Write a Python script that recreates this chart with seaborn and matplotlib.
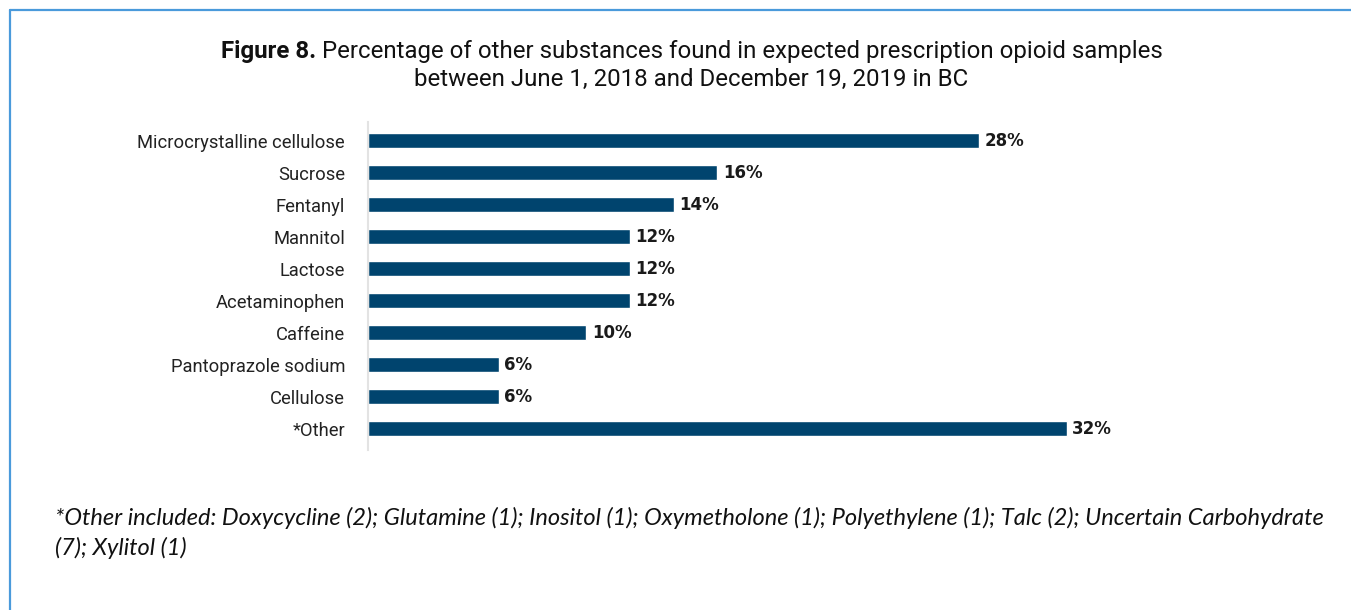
import matplotlib
matplotlib.use("Agg")
import matplotlib.pyplot as plt
from matplotlib.lines import Line2D
import seaborn as sns
import pandas as pd

substances = [
    "Microcrystalline cellulose", "Sucrose", "Fentanyl", "Mannitol", "Lactose",
    "Acetaminophen", "Caffeine", "Pantoprazole sodium", "Cellulose", "*Other",
]
percentages = [28, 16, 14, 12, 12, 12, 10, 6, 6, 32]
value_labels = [f"{p}%" for p in percentages]

title_bold = "Figure 8."
title_line1 = " Percentage of other substances found in expected prescription opioid samples"
title_line2 = "between June 1, 2018 and December 19, 2019 in BC"
footnote_line1 = ("*Other included: Doxycycline (2); Glutamine (1); Inositol (1); Oxymetholone (1); "
                  "Polyethylene (1); Talc (2); Uncertain Carbohydrate")
footnote_line2 = "(7); Xylitol (1)"

bar_color = "#00446E"
frame_color = "#4A9ADB"

sns.set_theme(style="white")
plt.rcParams["font.family"] = ["Roboto", "DejaVu Sans"]

df = pd.DataFrame({"substance": substances, "pct": percentages})

W, H = 1351, 610
fig = plt.figure(figsize=(W / 100, H / 100), dpi=100)
ax = fig.add_axes([0.2724, 0.2623, 0.6463, 0.5377])

sns.barplot(data=df, x="pct", y="substance", orient="h", color=bar_color,
            saturation=1, width=0.47, ax=ax)

ax.set_xlim(0, 40)
ax.set_ylim(9.66, -0.59)
ax.set_xlabel("")
ax.set_ylabel("")
ax.set_xticks([])
for side in ("top", "right", "bottom"):
    ax.spines[side].set_visible(False)
ax.spines["left"].set_color("#e3e3e3")
ax.spines["left"].set_linewidth(1.5)
ax.tick_params(axis="y", length=0, pad=16.5, labelsize=13.2, labelcolor="#222222")

for i, (p, lab) in enumerate(zip(percentages, value_labels)):
    ax.text(p + 0.25, i, lab, va="center", ha="left", fontsize=12,
            fontweight="bold", color="#1a1a1a", family=["DejaVu Sans"])

# Two-line title, first part bold
title_size = 17.3
cx = 691 / W
y1 = 1 - 58 / H
y2 = 1 - 86 / H
t1 = fig.text(cx, y1, title_bold + title_line1, ha="center", va="baseline",
              fontsize=title_size, color="#111111")
fig.canvas.draw()
r = fig.canvas.get_renderer()
bb = t1.get_window_extent(r)
t1.remove()
x0 = bb.x0 / fig.bbox.width
tb = fig.text(x0, y1, title_bold, ha="left", va="baseline", fontsize=title_size,
              fontweight="bold", color="#111111")
bbb = tb.get_window_extent(r)
fig.text(bbb.x1 / fig.bbox.width, y1, title_line1, ha="left", va="baseline",
         fontsize=title_size, color="#111111")
fig.text(cx, y2, title_line2, ha="center", va="baseline",
         fontsize=title_size, color="#111111")

for line, yb in ((footnote_line1, 525), (footnote_line2, 555)):
    fig.text(55 / W, 1 - yb / H, line, ha="left", va="baseline",
             fontsize=17, style="italic", color="#111111", family=["Lato", "DejaVu Sans"])

# Frame lines on the left and top edges
fig.add_artist(Line2D([10 / W, 10 / W], [0, 1 - 10 / H], transform=fig.transFigure,
                      color=frame_color, lw=1.6))
fig.add_artist(Line2D([10 / W, 1], [1 - 10 / H, 1 - 10 / H], transform=fig.transFigure,
                      color=frame_color, lw=1.6))

fig.savefig("out.png", dpi=100)
